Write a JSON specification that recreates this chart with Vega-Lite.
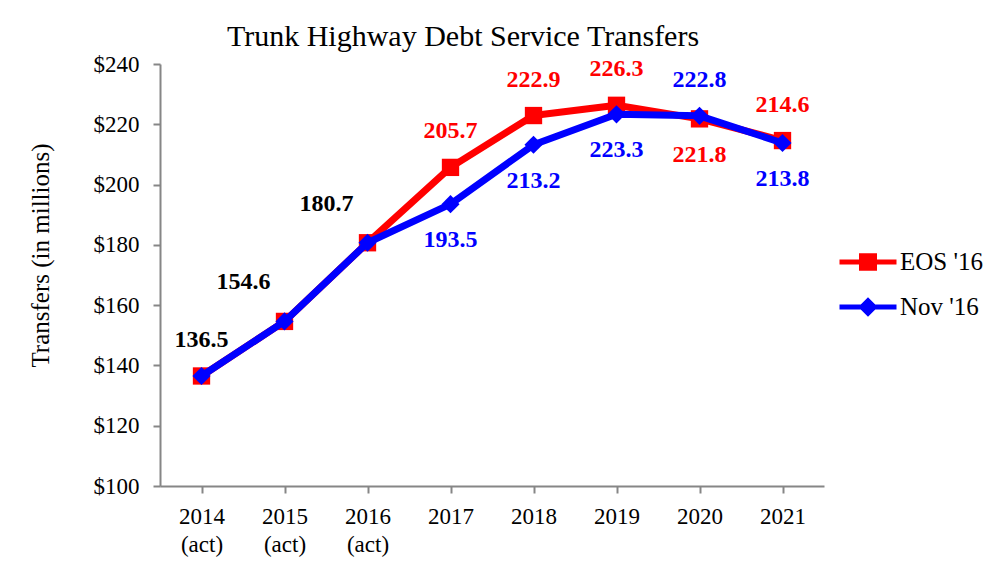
{
  "$schema": "https://vega.github.io/schema/vega-lite/v6.json",
  "width": 664,
  "height": 422,
  "autosize": {"type": "none"},
  "padding": {"left": 160, "top": 64, "right": 166, "bottom": 75},
  "background": "white",
  "title": {
    "text": "Trunk Highway Debt Service Transfers",
    "font": "Liberation Serif",
    "fontSize": 30,
    "fontWeight": "normal",
    "color": "black",
    "anchor": "middle",
    "dx": -29,
    "baseline": "bottom",
    "offset": -29
  },
  "datasets": {
    "series": [
      {"year": "2014 (act)", "series": "EOS '16", "value": 136.5},
      {"year": "2015 (act)", "series": "EOS '16", "value": 154.6},
      {"year": "2016 (act)", "series": "EOS '16", "value": 180.7},
      {"year": "2017", "series": "EOS '16", "value": 205.7},
      {"year": "2018", "series": "EOS '16", "value": 222.9},
      {"year": "2019", "series": "EOS '16", "value": 226.3},
      {"year": "2020", "series": "EOS '16", "value": 221.8},
      {"year": "2021", "series": "EOS '16", "value": 214.6},
      {"year": "2014 (act)", "series": "Nov '16", "value": 136.5},
      {"year": "2015 (act)", "series": "Nov '16", "value": 154.6},
      {"year": "2016 (act)", "series": "Nov '16", "value": 180.7},
      {"year": "2017", "series": "Nov '16", "value": 193.5},
      {"year": "2018", "series": "Nov '16", "value": 213.2},
      {"year": "2019", "series": "Nov '16", "value": 223.3},
      {"year": "2020", "series": "Nov '16", "value": 222.8},
      {"year": "2021", "series": "Nov '16", "value": 213.8}
    ],
    "labels": [
      {"year": "2014 (act)", "group": "Both", "value": 136.5, "text": "136.5", "placement": "above"},
      {"year": "2015 (act)", "group": "Both", "value": 154.6, "text": "154.6", "placement": "upleft"},
      {"year": "2016 (act)", "group": "Both", "value": 180.7, "text": "180.7", "placement": "upleft"},
      {"year": "2017", "group": "EOS '16", "value": 205.7, "text": "205.7", "placement": "above"},
      {"year": "2018", "group": "EOS '16", "value": 222.9, "text": "222.9", "placement": "above"},
      {"year": "2019", "group": "EOS '16", "value": 226.3, "text": "226.3", "placement": "above"},
      {"year": "2020", "group": "EOS '16", "value": 221.8, "text": "221.8", "placement": "below"},
      {"year": "2021", "group": "EOS '16", "value": 214.6, "text": "214.6", "placement": "above"},
      {"year": "2017", "group": "Nov '16", "value": 193.5, "text": "193.5", "placement": "below"},
      {"year": "2018", "group": "Nov '16", "value": 213.2, "text": "213.2", "placement": "below"},
      {"year": "2019", "group": "Nov '16", "value": 223.3, "text": "223.3", "placement": "below"},
      {"year": "2020", "group": "Nov '16", "value": 222.8, "text": "222.8", "placement": "above"},
      {"year": "2021", "group": "Nov '16", "value": 213.8, "text": "213.8", "placement": "below"}
    ]
  },
  "encoding": {
    "x": {
      "field": "year",
      "type": "ordinal",
      "sort": null,
      "scale": {"paddingInner": 0, "paddingOuter": 0},
      "axis": {
        "title": null,
        "labelAngle": 0,
        "labelExpr": "split(datum.label, ' ')",
        "labelLineHeight": 28,
        "labelPadding": 12,
        "bandPosition": 0,
        "ticks": true,
        "tickSize": 7
      }
    },
    "y": {
      "field": "value",
      "type": "quantitative",
      "scale": {"domain": [100, 240], "nice": false, "zero": false},
      "axis": {
        "title": "Transfers (in millions)",
        "values": [100, 120, 140, 160, 180, 200, 220, 240],
        "format": "$.0f",
        "grid": false,
        "tickSize": 7,
        "labelPadding": 14,
        "titlePadding": 40,
        "titleY": 191
      }
    }
  },
  "layer": [
    {
      "data": {"name": "series"},
      "transform": [{"filter": "datum.series === \"EOS '16\""}],
      "mark": {"type": "line", "strokeWidth": 7, "strokeJoin": "round", "strokeCap": "round"},
      "encoding": {
        "color": {
          "field": "series",
          "type": "nominal",
          "scale": {"domain": ["EOS '16", "Nov '16"], "range": ["#FF0000", "#0000FF"]},
          "legend": {
            "title": null,
            "orient": "none",
            "legendX": 693,
            "legendY": 183,
            "padding": 0,
            "symbolSize": 900,
            "symbolStrokeWidth": 0,
            "symbolType": "square",
            "labelOffset": 17,
            "rowPadding": 17,
            "labelFont": "Liberation Serif",
            "labelFontSize": 25,
            "labelColor": "black",
            "labelLimit": 200,
            "encode": {
              "symbols": {
                "update": {
                  "shape": {"signal": "datum.value === \"EOS '16\" ? 'M-1.9,-0.17H1.9V0.17H-1.9Z M-0.6,-0.58H0.6V0.58H-0.6Z' : 'M-1.9,-0.17H1.9V0.17H-1.9Z M-0.65,0L0,-0.65L0.65,0L0,0.65Z'"},
                  "fill": {"signal": "datum.value === \"EOS '16\" ? '#FF0000' : '#0000FF'"},
                  "opacity": {"value": 1},
                  "fillOpacity": {"value": 1}
                }
              }
            }
          }
        }
      }
    },
    {
      "data": {"name": "series"},
      "transform": [{"filter": "datum.series === \"EOS '16\""}],
      "mark": {"type": "point", "filled": true, "opacity": 1, "size": 300, "shape": "square"},
      "encoding": {
        "color": {"field": "series", "type": "nominal"}
      }
    },
    {
      "data": {"name": "series"},
      "transform": [{"filter": "datum.series === \"Nov '16\""}],
      "mark": {"type": "line", "strokeWidth": 7, "strokeJoin": "round", "strokeCap": "round"},
      "encoding": {
        "color": {"field": "series", "type": "nominal"}
      }
    },
    {
      "data": {"name": "series"},
      "transform": [{"filter": "datum.series === \"Nov '16\""}],
      "mark": {"type": "point", "filled": true, "opacity": 1, "size": 330, "shape": "diamond"},
      "encoding": {
        "color": {"field": "series", "type": "nominal"}
      }
    },
    {
      "data": {"name": "labels"},
      "transform": [{"filter": "datum.placement === 'above'"}],
      "mark": {"type": "text", "dy": -36, "baseline": "middle", "font": "Liberation Serif", "fontSize": 24, "fontWeight": "bold"},
      "encoding": {
        "text": {"field": "text"},
        "color": {"condition": [{"test": "datum.group === \"EOS '16\"", "value": "#FF0000"}, {"test": "datum.group === \"Nov '16\"", "value": "#0000FF"}], "value": "black"}
      }
    },
    {
      "data": {"name": "labels"},
      "transform": [{"filter": "datum.placement === 'below'"}],
      "mark": {"type": "text", "dy": 36, "baseline": "middle", "font": "Liberation Serif", "fontSize": 24, "fontWeight": "bold"},
      "encoding": {
        "text": {"field": "text"},
        "color": {"condition": [{"test": "datum.group === \"EOS '16\"", "value": "#FF0000"}, {"test": "datum.group === \"Nov '16\"", "value": "#0000FF"}], "value": "black"}
      }
    },
    {
      "data": {"name": "labels"},
      "transform": [{"filter": "datum.placement === 'upleft'"}],
      "mark": {"type": "text", "dy": -39, "dx": -41, "baseline": "middle", "font": "Liberation Serif", "fontSize": 24, "fontWeight": "bold"},
      "encoding": {
        "text": {"field": "text"},
        "color": {"condition": [{"test": "datum.group === \"EOS '16\"", "value": "#FF0000"}, {"test": "datum.group === \"Nov '16\"", "value": "#0000FF"}], "value": "black"}
      }
    }
  ],
  "config": {
    "view": {"stroke": null},
    "axis": {
      "domainColor": "#868686",
      "domainWidth": 2,
      "tickColor": "#868686",
      "tickWidth": 2,
      "labelFont": "Liberation Serif",
      "labelFontSize": 23,
      "labelColor": "black",
      "titleFont": "Liberation Serif",
      "titleFontSize": 25,
      "titleFontWeight": "normal",
      "titleColor": "black"
    }
  }
}
